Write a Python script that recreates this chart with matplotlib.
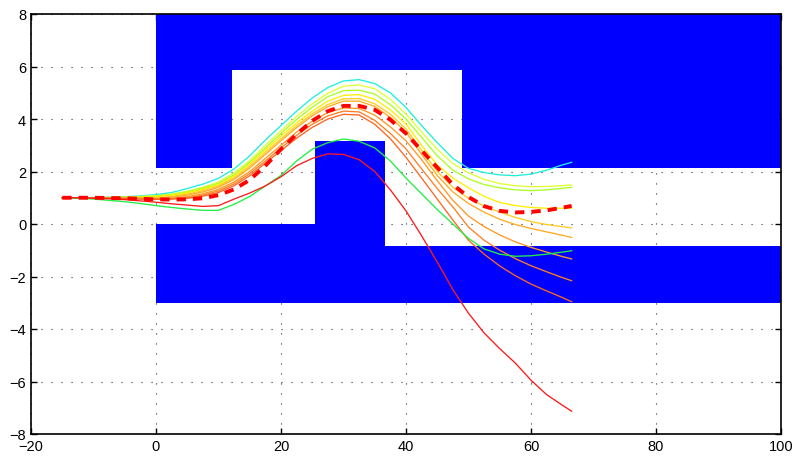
import matplotlib
matplotlib.use("Agg")
import matplotlib.pyplot as plt

plt.rcParams['font.family'] = ['Liberation Sans', 'DejaVu Sans']

# sample x positions shared by all trajectories
xs = [-15, -12.5, -10, -7.5, -5, -2.5, 0, 2.5, 5, 7.5, 10, 12.5, 15, 17.5, 20, 22.5,
      25, 27.5, 30, 32.5, 35, 37.5, 40, 42.5, 45, 47.5, 50, 52.5, 55, 57.5, 60, 62.5, 65, 66.5]

cyan = [1.0, 1.0, 1.01, 1.02, 1.04, 1.07, 1.12, 1.2, 1.35, 1.52, 1.74, 2.1, 2.6, 3.2, 3.75, 4.3,
        4.8, 5.2, 5.45, 5.5, 5.35, 5.0, 4.44, 3.75, 3.1, 2.5, 2.12, 1.96, 1.87, 1.84, 1.9, 2.05, 2.25, 2.35]
light_yellow = [1.0, 1.0, 1.0, 1.01, 1.02, 1.05, 1.08, 1.14, 1.25, 1.4, 1.6, 1.95, 2.42, 3.0, 3.55, 4.1,
                4.58, 4.98, 5.25, 5.3, 5.15, 4.75, 4.19, 3.5, 2.85, 2.3, 1.95, 1.7, 1.54, 1.46, 1.42, 1.43, 1.46, 1.49]
lime = [1.0, 1.0, 1.0, 1.01, 1.02, 1.04, 1.06, 1.12, 1.22, 1.36, 1.55, 1.88, 2.35, 2.9, 3.45, 3.98,
        4.45, 4.85, 5.08, 5.1, 4.95, 4.55, 4.0, 3.3, 2.6, 2.05, 1.72, 1.5, 1.38, 1.3, 1.27, 1.3, 1.36, 1.4]
yellow = [1.0, 1.0, 1.0, 1.0, 1.01, 1.02, 1.04, 1.1, 1.19, 1.32, 1.5, 1.82, 2.28, 2.82, 3.35, 3.85,
          4.3, 4.68, 4.9, 4.93, 4.75, 4.35, 3.81, 3.0, 2.25, 1.75, 1.38, 1.05, 0.82, 0.7, 0.63, 0.6, 0.6, 0.6]
orange_yellow = [1.0, 1.0, 1.0, 1.0, 1.0, 1.0, 1.0, 1.05, 1.14, 1.27, 1.45, 1.76, 2.2, 2.73, 3.25, 3.75,
                 4.2, 4.55, 4.77, 4.78, 4.58, 4.18, 3.62, 2.8, 2.0, 1.4, 0.98, 0.68, 0.45, 0.25, 0.09, -0.02, -0.1, -0.15]
orange_yellow2 = [1.0, 1.0, 1.0, 1.0, 0.99, 0.99, 0.98, 1.02, 1.1, 1.22, 1.4, 1.7, 2.13, 2.65, 3.17, 3.67,
                  4.12, 4.47, 4.68, 4.68, 4.48, 4.06, 3.5, 2.65, 1.85, 1.22, 0.78, 0.45, 0.18, -0.02, -0.17, -0.3, -0.43, -0.51]
orange1 = [1.0, 1.0, 1.0, 0.99, 0.98, 0.97, 0.96, 0.98, 1.04, 1.15, 1.32, 1.6, 2.0, 2.5, 3.0, 3.5,
           3.92, 4.25, 4.42, 4.4, 4.15, 3.7, 3.17, 2.45, 1.65, 0.9, 0.3, -0.1, -0.42, -0.68, -0.89, -1.07, -1.24, -1.33]
orange2 = [1.0, 1.0, 0.99, 0.98, 0.97, 0.96, 0.95, 0.96, 1.0, 1.1, 1.26, 1.53, 1.92, 2.4, 2.9, 3.38,
           3.8, 4.12, 4.3, 4.27, 3.95, 3.45, 2.86, 2.1, 1.35, 0.65, -0.12, -0.62, -1.0, -1.32, -1.59, -1.82, -2.04, -2.16]
orange_red = [1.0, 1.0, 0.99, 0.98, 0.97, 0.95, 0.94, 0.95, 0.98, 1.06, 1.2, 1.46, 1.84, 2.32, 2.8, 3.27,
              3.68, 4.0, 4.18, 4.15, 3.8, 3.25, 2.54, 1.75, 0.95, 0.15, -0.62, -1.15, -1.6, -1.97, -2.29, -2.55, -2.8, -2.96]
green = [1.0, 0.98, 0.95, 0.9, 0.85, 0.78, 0.7, 0.63, 0.57, 0.52, 0.52, 0.75, 1.05, 1.45, 1.85, 2.4,
         2.85, 3.1, 3.24, 3.15, 2.9, 2.4, 1.75, 1.15, 0.55, 0.0, -0.55, -0.95, -1.15, -1.23, -1.21, -1.15, -1.07, -1.02]
red = [1.0, 1.0, 0.98, 0.96, 0.93, 0.88, 0.83, 0.77, 0.72, 0.67, 0.7, 0.95, 1.18, 1.45, 1.8, 2.22,
       2.5, 2.67, 2.65, 2.45, 2.0, 1.3, 0.5, -0.45, -1.45, -2.5, -3.4, -4.15, -4.75, -5.3, -5.95, -6.5, -6.9, -7.13]
reference = [1.0, 1.0, 1.0, 0.99, 0.98, 0.96, 0.94, 0.93, 0.94, 0.98, 1.1, 1.32, 1.68, 2.22, 2.85, 3.42,
             3.93, 4.3, 4.5, 4.5, 4.35, 3.97, 3.45, 2.8, 2.15, 1.5, 1.03, 0.68, 0.5, 0.44, 0.46, 0.52, 0.62, 0.69]

trajectories = [cyan, light_yellow, lime, yellow, orange_yellow, orange_yellow2,
                orange1, orange2, orange_red, green, red]
traj_colors = ['#22eedd', '#ddff33', '#aaff22', '#ffee00', '#ffcc22', '#ffaa22',
               '#ff9922', '#ff7f22', '#ff6622', '#22ee44', '#ff1a1a']

# obstacles: (x0, x1, y0, y1)
obstacles = [(0, 12.1, 2.14, 8), (12.1, 49, 5.87, 8), (49, 100, 2.14, 8),
             (0, 25.5, -3, 0), (25.5, 36.7, -3, 3.17), (36.7, 100, -3, -0.84)]

x_ticks = [-20, 0, 20, 40, 60, 80, 100]
y_ticks = [-8, -6, -4, -2, 0, 2, 4, 6, 8]

fig = plt.figure(figsize=(7.98, 4.6), dpi=100)
ax = fig.add_axes([31/798, 1-435/460, 750/798, 420/460])

for (x0, x1, y0, y1) in obstacles:
    ax.fill_between([x0, x1], [y0, y0], [y1, y1], color='#0000ff', linewidth=0, zorder=2)

for ys, c in zip(trajectories, traj_colors):
    ax.plot(xs, ys, color=c, linewidth=0.95, zorder=3, solid_joinstyle='round')
ax.plot(xs, reference, color='#ff0000', linewidth=2.8, linestyle=(0, (2.4, 1.8)), zorder=4)

ax.set_xlim(-20, 100)
ax.set_ylim(-8, 8)
ax.set_xticks(x_ticks)
ax.set_yticks(y_ticks)
ax.grid(True, color='#333333', linestyle=(0, (1, 8)), linewidth=0.8)
ax.set_axisbelow(True)
ax.tick_params(direction='in', top=True, right=True, length=4, width=1, labelsize=10.5)
for s in ax.spines.values():
    s.set_linewidth(1.2)
    s.set_zorder(5)

fig.savefig('out.png', dpi=100)
